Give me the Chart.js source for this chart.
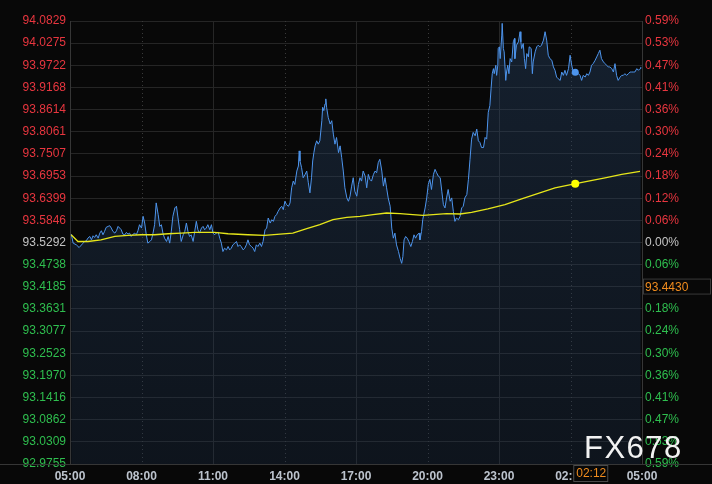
<!DOCTYPE html>
<html>
<head>
<meta charset="utf-8">
<script src="https://cdn.jsdelivr.net/npm/chart.js@4"></script>
<style>
  html, body { margin: 0; padding: 0; background: #080808; overflow: hidden; }
  canvas { display: block; }
</style>
</head>
<body>
<canvas id="chart" width="712" height="484"></canvas>
<script>
// price ticks (left) and % change labels (right), top to bottom
const priceTicks = [94.0829, 94.0275, 93.9722, 93.9168, 93.8614, 93.8061, 93.7507, 93.6953, 93.6399, 93.5846,
  93.5292, 93.4738, 93.4185, 93.3631, 93.3077, 93.2523, 93.1970, 93.1416, 93.0862, 93.0309, 92.9755];
const pctLabels = ['0.59%', '0.53%', '0.47%', '0.41%', '0.36%', '0.30%', '0.24%', '0.18%', '0.12%', '0.06%',
  '0.00%', '0.06%', '0.12%', '0.18%', '0.24%', '0.30%', '0.36%', '0.41%', '0.47%', '0.53%', '0.59%'];

// time axis: minutes after 05:00
const timeTicks = [0, 180, 360, 540, 720, 900, 1080, 1260, 1440];
const timeLabels = ['05:00', '08:00', '11:00', '14:00', '17:00', '20:00', '23:00', '02:00', '05:00'];
const gridStyle = ['axis', 'dot', 'solid', 'dot', 'solid', 'dot', 'solid', 'dot', 'axis'];

// price series
const priceTimes = [
  3, 8, 16, 23, 33, 37, 41, 45, 50, 54,
  58, 62, 66, 71, 75, 79, 83, 87, 91, 96,
  100, 104, 108, 113, 117, 121, 125, 129, 133, 138,
  142, 146, 150, 154, 159, 163, 167, 171, 175, 180,
  184, 188, 192, 196, 201, 205, 209, 213, 217, 222,
  226, 230, 234, 238, 243, 247, 251, 255, 259, 264,
  268, 272, 276, 280, 285, 289, 293, 297, 301, 305,
  310, 314, 318, 322, 326, 331, 335, 339, 343, 347,
  352, 356, 360, 364, 368, 373, 377, 381, 385, 389,
  394, 398, 402, 406, 410, 415, 419, 423, 427, 431,
  436, 440, 444, 448, 452, 457, 461, 465, 469, 473,
  478, 482, 486, 491, 495, 499, 504, 508, 512, 516,
  520, 524, 529, 533, 537, 541, 545, 550, 554, 558,
  562, 566, 571, 575, 577, 579, 583, 587, 592, 596,
  600, 604, 608, 611, 614, 617, 621, 625, 629, 634,
  636, 639, 642, 644, 646, 650, 655, 659, 663, 667,
  671, 676, 680, 684, 688, 692, 697, 701, 705, 709,
  713, 717, 722, 726, 730, 734, 738, 743, 747, 751,
  755, 759, 764, 768, 772, 776, 780, 785, 789, 793,
  797, 801, 806, 810, 814, 818, 822, 827, 831, 835,
  838, 841, 845, 849, 853, 858, 862, 866, 870, 874,
  879, 881, 885, 888, 894, 898, 902, 906, 910, 915,
  919, 923, 927, 932, 936, 940, 944, 948, 952, 957,
  961, 965, 969, 973, 978, 982, 986, 990, 994, 999,
  1003, 1007, 1011, 1015, 1020, 1024, 1028, 1032, 1036, 1041,
  1045, 1049, 1053, 1057, 1060, 1063, 1066, 1068, 1072, 1074,
  1077, 1078, 1081, 1083, 1087, 1088, 1091, 1093, 1097, 1099,
  1102, 1105, 1108, 1112, 1116, 1119, 1120, 1124, 1129, 1133,
  1135, 1137, 1141, 1144, 1147, 1150, 1154, 1156, 1161, 1164,
  1166, 1171, 1175, 1179, 1183, 1187, 1192, 1196, 1200, 1204,
  1208, 1213, 1217, 1221, 1225, 1229, 1234, 1238, 1242, 1246,
  1250, 1255, 1259, 1263, 1267, 1271, 1276, 1280, 1284, 1288,
  1292, 1297, 1301, 1305, 1309, 1313, 1317, 1322, 1326, 1330,
  1334, 1338, 1343, 1347, 1351, 1355, 1359, 1364, 1368, 1372,
  1376, 1380, 1385, 1389, 1393, 1397, 1401, 1406, 1410, 1414,
  1418, 1422, 1427, 1431, 1435, 1437
];
const prices = [
  93.5502, 93.5276, 93.5234, 93.5166, 93.5276, 93.5318, 93.5334, 93.5401, 93.5443, 93.5359,
  93.5460, 93.5418, 93.5485, 93.5401, 93.5527, 93.5586, 93.5485, 93.5569, 93.5670, 93.5695,
  93.5712, 93.5653, 93.5569, 93.5527, 93.5586, 93.5695, 93.5653, 93.5611, 93.5502, 93.5485,
  93.5544, 93.5502, 93.5527, 93.5443, 93.5502, 93.5527, 93.5485, 93.5586, 93.5737, 93.5653,
  93.5947, 93.5779, 93.5485, 93.5276, 93.5318, 93.5359, 93.5527, 93.5737, 93.6282, 93.5989,
  93.5695, 93.5737, 93.5527, 93.5401, 93.5318, 93.5443, 93.5276, 93.5569, 93.5947, 93.6157,
  93.6198, 93.5905, 93.5611, 93.5318, 93.5485, 93.5569, 93.5779, 93.5569, 93.5443, 93.5485,
  93.5318, 93.5569, 93.5821, 93.5611, 93.5527, 93.5653, 93.5695, 93.5611, 93.5653, 93.5737,
  93.5611, 93.5737, 93.5527, 93.5485, 93.5527, 93.5552, 93.5401, 93.5276, 93.5066, 93.5150,
  93.5108, 93.5192, 93.5108, 93.5150, 93.5234, 93.5276, 93.5318, 93.5192, 93.5234, 93.5192,
  93.5108, 93.5150, 93.5234, 93.5359, 93.5234, 93.5192, 93.5150, 93.5066, 93.5234, 93.5192,
  93.5276, 93.5192, 93.5318, 93.5610, 93.5652, 93.5904, 93.5778, 93.5862, 93.5820, 93.5946,
  93.5988, 93.6072, 93.6156, 93.6197, 93.6114, 93.6323, 93.6239, 93.6197, 93.6281, 93.6659,
  93.6827, 93.6743, 93.7078, 93.7204, 93.7582, 93.7330, 93.7162, 93.6911, 93.6995, 93.7078,
  93.6785, 93.6533, 93.6911, 93.7330, 93.7540, 93.7708, 93.7834, 93.7750, 93.7834, 93.8337,
  93.8672, 93.8589, 93.8756, 93.8882, 93.8672, 93.8421, 93.8253, 93.8337, 93.8001, 93.7750,
  93.7917, 93.7540, 93.7708, 93.7414, 93.7078, 93.6659, 93.6407, 93.6323, 93.6449, 93.6701,
  93.6911, 93.6575, 93.6449, 93.6743, 93.6911, 93.6827, 93.7078, 93.6953, 93.6659, 93.6995,
  93.6869, 93.6827, 93.6995, 93.7078, 93.7036, 93.7288, 93.7372, 93.7078, 93.6701, 93.6911,
  93.6659, 93.6407, 93.6198, 93.5652, 93.5400, 93.5526, 93.5233, 93.5065, 93.4897, 93.4771,
  93.4939, 93.5358, 93.5442, 93.5400, 93.5316, 93.5191, 93.5316, 93.5484, 93.5400, 93.5484,
  93.5526, 93.5358, 93.5568, 93.5862, 93.6156, 93.6407, 93.6743, 93.6869, 93.6617, 93.6995,
  93.7120, 93.7036, 93.6953, 93.6911, 93.6575, 93.6239, 93.6156, 93.6407, 93.6617, 93.6323,
  93.6407, 93.6072, 93.5820, 93.5904, 93.5862, 93.5946, 93.6156, 93.6198, 93.6407, 93.6491,
  93.6869, 93.7372, 93.7876, 93.8044, 93.7960, 93.8127, 93.7834, 93.7792, 93.7666, 93.7666,
  93.7918, 93.7876, 93.8547, 93.8715, 93.9134, 93.9512, 93.9638, 93.9512, 93.9722, 93.9470,
  93.9722, 94.0141, 94.0183, 93.9889, 94.0477, 94.0770, 94.0141, 94.0057, 93.9344, 93.9554,
  93.9722, 93.9512, 93.9889, 93.9805, 94.0309, 94.0393, 93.9889, 94.0225, 94.0309, 94.0561,
  94.0309, 94.0141, 94.0267, 93.9889, 93.9638, 94.0015, 93.9931, 94.0183, 94.0141, 93.9512,
  93.9805, 94.0057, 94.0183, 94.0225, 94.0183, 94.0225, 94.0351, 94.0561, 94.0351, 93.9973,
  93.9889, 93.9847, 93.9680, 93.9596, 93.9428, 93.9386, 93.9344, 93.9554, 93.9470, 93.9596,
  93.9470, 93.9638, 93.9973, 93.9722, 93.9554, 93.9554, 93.9512, 93.9512, 93.9470, 93.9344,
  93.9470, 93.9428, 93.9512, 93.9470, 93.9554, 93.9722, 93.9763, 93.9847, 93.9931, 94.0015,
  94.0099, 93.9889, 93.9805, 93.9763, 93.9722, 93.9680, 93.9680, 93.9638, 93.9554, 93.9763,
  93.9470, 93.9344, 93.9428, 93.9470, 93.9470, 93.9512, 93.9470, 93.9512, 93.9554, 93.9554,
  93.9554, 93.9554, 93.9638, 93.9596, 93.9638, 93.9680
];

// moving average (yellow)
const avgTimes = [3, 20, 45, 78, 113, 146, 179, 213, 247, 280, 314, 364, 398, 448, 490, 529, 561, 596, 629, 662,
  697, 730, 763, 797, 831, 863, 889, 914, 948, 982, 1011, 1052, 1095, 1137, 1179, 1221, 1270, 1305, 1347, 1389, 1435];
const avgPrices = [93.5486, 93.5317, 93.5317, 93.5360, 93.5443, 93.5468, 93.5486, 93.5486, 93.5511, 93.5526,
  93.5544, 93.5544, 93.5511, 93.5486, 93.5468, 93.5501, 93.5526, 93.5637, 93.5738, 93.5863,
  93.5921, 93.5946, 93.5989, 93.6029, 93.6014, 93.5989, 93.5972, 93.5989, 93.6014, 93.6004,
  93.6047, 93.6130, 93.6241, 93.6382, 93.6518, 93.6659, 93.6759, 93.6827, 93.6910, 93.6996, 93.7071];

// crosshair at 02:12
const cursorTime = 1272;
const cursorLabel = '02:12';
const cursorPrice = 93.9545;
const cursorAvg = 93.6762;

// price tag on the right axis
const tagText = '93.4430';
const tagAt = 93.419;

const RED = '#e8363f';
const GREEN = '#2fbf4f';
const FLAT = '#c4c4c4';
const FONT = '"Liberation Sans", Arial, sans-serif';
const tickColor = i => i < 10 ? RED : (i === 10 ? FLAT : GREEN);

Chart.defaults.font.family = FONT;

const decor = {
  id: 'decor',
  beforeDraw(chart) {
    const c = chart.ctx;
    c.save();
    c.fillStyle = '#080808';
    c.fillRect(0, 0, chart.width, chart.height);
    c.restore();
  },
  beforeDatasetsDraw(chart) {
    const c = chart.ctx, a = chart.chartArea, x = chart.scales.x;
    c.save();
    c.lineWidth = 1;
    timeTicks.forEach((t, i) => {
      const px = Math.round(x.getPixelForValue(t)) + 0.5;
      const st = gridStyle[i];
      c.setLineDash(st === 'dot' ? [1, 3] : []);
      c.strokeStyle = st === 'dot' ? '#3a3a3a' : (st === 'solid' ? '#262626' : '#363636');
      c.beginPath();
      c.moveTo(px, a.top);
      c.lineTo(px, a.bottom);
      c.stroke();
    });
    c.restore();
  },
  afterDraw(chart) {
    const c = chart.ctx, a = chart.chartArea;
    const x = chart.scales.x, y = chart.scales.y;
    c.save();
    // bottom line across the whole width
    c.strokeStyle = '#363636';
    c.lineWidth = 1;
    c.beginPath();
    c.moveTo(0, Math.round(a.bottom) + 0.5);
    c.lineTo(chart.width, Math.round(a.bottom) + 0.5);
    c.stroke();

    // watermark
    c.fillStyle = '#f2f2f2';
    c.font = '31px ' + FONT;
    c.textBaseline = 'alphabetic';
    c.textAlign = 'left';
    if ('letterSpacing' in c) c.letterSpacing = '1.5px';
    c.fillText('FX678', 584, 458);
    if ('letterSpacing' in c) c.letterSpacing = '0px';

    // time tag under cursor
    const cx = x.getPixelForValue(cursorTime);
    c.fillStyle = '#080808';
    c.fillRect(cx - 2, a.bottom + 1, 35, 17);
    c.strokeStyle = '#4a4a4a';
    c.strokeRect(cx - 1.5, a.bottom + 1.5, 34, 16);
    c.fillStyle = '#f08c1e';
    c.font = '12px ' + FONT;
    c.textBaseline = 'middle';
    c.fillText(cursorLabel, cx + 1, a.bottom + 10);

    // price tag on the right axis
    const ty = y.getPixelForValue(tagAt);
    c.fillStyle = '#080808';
    c.fillRect(a.right + 1, ty - 8, chart.width - a.right - 2, 16);
    c.strokeStyle = '#3a3a3a';
    c.strokeRect(a.right + 1.5, ty - 7.5, chart.width - a.right - 3, 15);
    c.fillStyle = '#f08c1e';
    c.fillText(tagText, a.right + 3, ty + 1);
    c.restore();
  }
};

const ctx = document.getElementById('chart');
new Chart(ctx, {
  type: 'line',
  data: {
    datasets: [
      {
        data: priceTimes.map((t, i) => ({ x: t, y: prices[i] })),
        borderColor: '#4d94ec',
        borderWidth: 1,
        pointRadius: 0,
        tension: 0,
        fill: 'start',
        backgroundColor: c => {
          const a = c.chart.chartArea;
          if (!a) return 'rgba(36,62,98,0.3)';
          const g = c.chart.ctx.createLinearGradient(0, a.top, 0, a.bottom);
          g.addColorStop(0, 'rgba(42,72,110,0.38)');
          g.addColorStop(1, 'rgba(30,52,82,0.28)');
          return g;
        },
        yAxisID: 'y',
        order: 2
      },
      {
        data: avgTimes.map((t, i) => ({ x: t, y: avgPrices[i] })),
        borderColor: '#e6e61a',
        borderWidth: 1.3,
        pointRadius: 0,
        tension: 0,
        fill: false,
        yAxisID: 'y',
        order: 1
      },
      {
        data: [{ x: cursorTime, y: cursorPrice }],
        showLine: false,
        pointRadius: 3.5,
        pointBorderWidth: 0,
        pointBackgroundColor: '#4d94ec',
        yAxisID: 'y',
        order: 0
      },
      {
        data: [{ x: cursorTime, y: cursorAvg }],
        showLine: false,
        pointRadius: 4,
        pointBorderWidth: 0,
        pointBackgroundColor: '#ffff00',
        yAxisID: 'y',
        order: 0
      }
    ]
  },
  options: {
    responsive: false,
    animation: false,
    events: [],
    layout: { padding: { top: 21, bottom: 0, left: 0, right: 0 } },
    plugins: { legend: { display: false }, tooltip: { enabled: false } },
    scales: {
      x: {
        type: 'linear',
        min: 0,
        max: 1440,
        afterBuildTicks: s => { s.ticks = timeTicks.map(v => ({ value: v })); },
        afterFit: s => { s.height = 20; },
        grid: { display: false, drawTicks: false },
        border: { display: false },
        ticks: {
          callback: (v, i) => timeLabels[i],
          color: '#bcc3cd',
          font: { size: 12, weight: 'bold' },
          padding: 5,
          maxRotation: 0,
          autoSkip: false
        }
      },
      y: {
        position: 'left',
        min: 92.9755,
        max: 94.0829,
        afterBuildTicks: s => { s.ticks = priceTicks.map(v => ({ value: v })); },
        afterFit: s => { s.width = 70; },
        grid: { color: '#252525', drawTicks: false },
        border: { display: false },
        ticks: {
          callback: (v, i) => priceTicks[i].toFixed(4),
          color: c => tickColor(c.index),
          font: { size: 12 },
          padding: 4,
          autoSkip: false
        }
      },
      y2: {
        position: 'right',
        min: 92.9755,
        max: 94.0829,
        afterBuildTicks: s => { s.ticks = priceTicks.map(v => ({ value: v })); },
        afterFit: s => { s.width = 70; },
        grid: { display: false, drawTicks: false },
        border: { display: false },
        ticks: {
          callback: (v, i) => pctLabels[i],
          color: c => tickColor(c.index),
          font: { size: 12 },
          padding: 3,
          autoSkip: false
        }
      }
    }
  },
  plugins: [decor]
});
</script>
</body>
</html>
